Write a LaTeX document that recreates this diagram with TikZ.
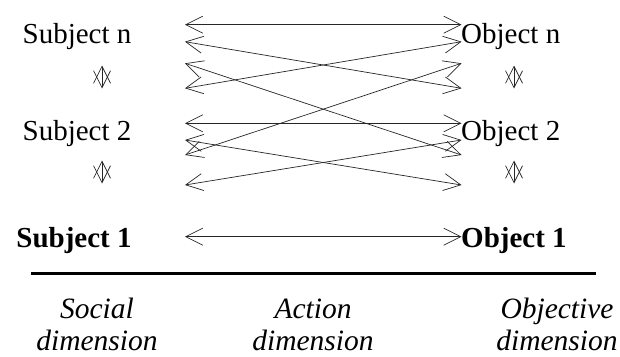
\documentclass[tikz,border=0pt]{standalone}
\usepackage{fontspec}
\setmainfont{Liberation Serif}
\usetikzlibrary{arrows.meta}
\tikzset{
  link/.style={line width=0.7pt, draw=black!85,
    {Straight Barb[length=17pt,width=17pt]}-{Straight Barb[length=17pt,width=17pt]}},
  updown/.style={line width=0.7pt, draw=black!85,
    {Straight Barb[length=17pt,width=17pt]}-{Straight Barb[length=17pt,width=17pt]}},
  label/.style={inner sep=0pt, font=\fontsize{29}{34}\selectfont},
  boldlabel/.style={inner sep=0pt, font=\fontsize{29}{34}\selectfont\bfseries},
  dimlabel/.style={inner sep=0pt, align=center, font=\fontsize{29.5}{32.5}\selectfont\itshape}
}
\begin{document}
\begin{tikzpicture}[x=1pt,y=-1pt]
\useasboundingbox (0,0) rectangle (620,356);

% subjects and objects
\node[label, anchor=base] (sn) at (77,43) {Subject n};
\node[label, anchor=base] (s2) at (77,140) {Subject 2};
\node[boldlabel, anchor=base] (s1) at (74,247) {Subject 1};
\node[label, anchor=base west] (on) at (461,43) {Object n};
\node[label, anchor=base west] (o2) at (461,140) {Object 2};
\node[boldlabel, anchor=base west] (o1) at (461,247) {Object 1};

% arrow end points on the action side
\coordinate (l1) at (185,24.7);  \coordinate (r1) at (461.5,24.7);
\coordinate (l2) at (185,41.7);  \coordinate (r2) at (461.5,41.7);
\coordinate (l3) at (185,63.3);  \coordinate (r3) at (461.5,63.3);
\coordinate (l4) at (185,88.3);  \coordinate (r4) at (461.5,88.3);
\coordinate (l5) at (185,123.3); \coordinate (r5) at (461.5,123.3);
\coordinate (l6) at (185,140);   \coordinate (r6) at (461.5,140);
\coordinate (l7) at (185,155);   \coordinate (r7) at (461.5,155);
\coordinate (l8) at (185,185);   \coordinate (r8) at (461.5,185);
\coordinate (l9) at (185,236.7); \coordinate (r9) at (461.5,236.7);

\draw[link] (l1) -- (r1);
\draw[link] (l2) -- (r4);
\draw[link] (l4) -- (r2);
\draw[link] (l3) -- (r7);
\draw[link] (l7) -- (r3);
\draw[link] (l5) -- (r5);
\draw[link] (l6) -- (r8);
\draw[link] (l8) -- (r6);
\draw[link] (l9) -- (r9);

% vertical links between levels
\coordinate (sa) at (102,65.5);  \coordinate (sb) at (102,88.5);
\coordinate (sc) at (102,160.5); \coordinate (sd) at (102,183.5);
\coordinate (oa) at (514,65.5);  \coordinate (ob) at (514,88.5);
\coordinate (oc) at (514,160.5); \coordinate (od) at (514,183.5);
\draw[updown] (sa) -- (sb);
\draw[updown] (sc) -- (sd);
\draw[updown] (oa) -- (ob);
\draw[updown] (oc) -- (od);

% base line and dimension labels
\coordinate (ba) at (31,273.5);
\coordinate (bb) at (596,273.5);
\draw[line width=2.2pt] (ba) -- (bb);
\node[dimlabel, anchor=base] (soc) at (97,350.5) {Social\\dimension};
\node[dimlabel, anchor=base] (act) at (313,350.5) {Action\\dimension};
\node[dimlabel, anchor=base] (obj) at (557,350.5) {Objective\\dimension};
\end{tikzpicture}
\end{document}
